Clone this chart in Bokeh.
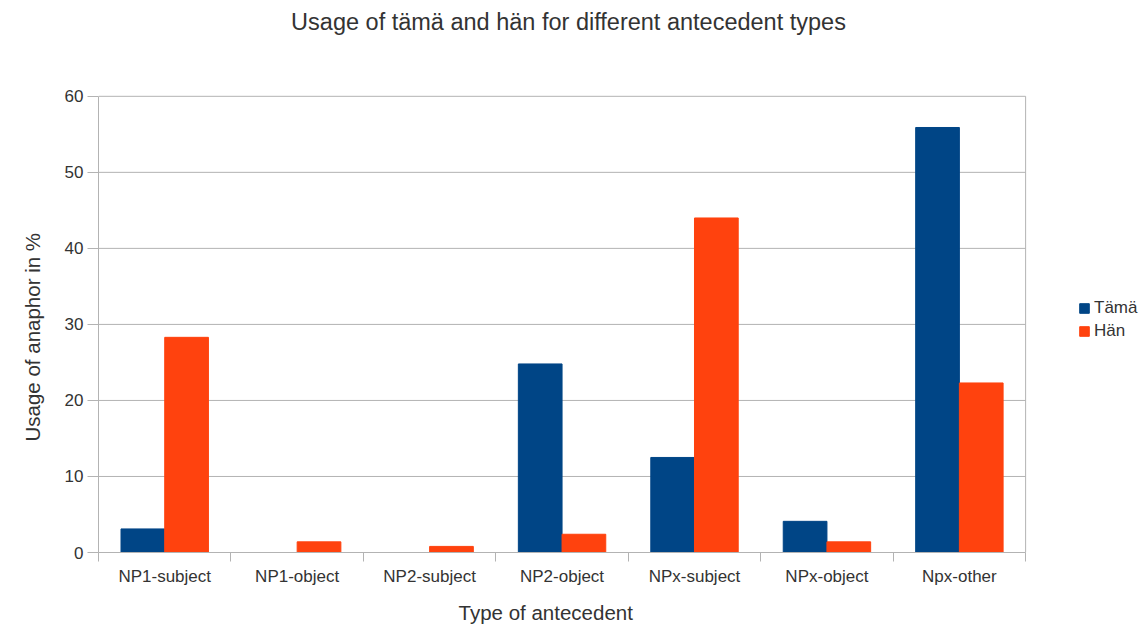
from bokeh.plotting import figure
from bokeh.models import (ColumnDataSource, FixedTicker, Legend, LegendItem, Range1d,
                          Label, Title)
from bokeh.embed import file_html
from bokeh.resources import INLINE

categories = ["NP1-subject", "NP1-object", "NP2-subject", "NP2-object",
              "NPx-subject", "NPx-object", "Npx-other"]
tama = [3.1, 0.0, 0.0, 24.8, 12.5, 4.1, 55.9]
han = [28.3, 1.4, 0.8, 2.4, 44.0, 1.4, 22.3]
y_ticks = [0, 10, 20, 30, 40, 50, 60]

FONT = "Liberation Sans"
TXT = "#333333"
GRID = "#b3b3b3"

W, H = 1140, 633
LEFT, BOTTOM = 97, 80          # borders (px)
PLOT_W, PLOT_H = 928, 457      # visible plotting box (px)

n = len(categories)
ymax = y_ticks[-1]
centers = [i + 0.5 for i in range(n)]
src = ColumnDataSource(dict(
    x_t=[c - 0.165 for c in centers],
    x_h=[c + 0.165 for c in centers],
    tama=tama, han=han))
grid_src = ColumnDataSource(dict(x0=[0] * len(y_ticks), x1=[n] * len(y_ticks),
                                 y=y_ticks))

# frame spans to the right and top edges; axes/grid are bounded to the data box
x_end = n * (W - LEFT) / PLOT_W
y_end = ymax * (H - BOTTOM) / PLOT_H

p = figure(width=W, height=H, output_backend="svg", toolbar_location=None,
           x_range=Range1d(0, x_end), y_range=Range1d(0, y_end),
           min_border_left=LEFT, min_border_right=0, min_border_bottom=BOTTOM,
           min_border_top=0)

# horizontal grid lines and right border of the data box
p.segment(x0="x0", x1="x1", y0="y", y1="y", source=grid_src,
          line_color=GRID, line_width=1, level="underlay")
p.segment(x0=[n], x1=[n], y0=[0], y1=[ymax], line_color=GRID, line_width=1,
          level="underlay")

r1 = p.vbar(x="x_t", top="tama", width=0.33, source=src,
            fill_color="#004586", line_color="#004586")
r2 = p.vbar(x="x_h", top="han", width=0.33, source=src,
            fill_color="#ff420e", line_color="#ff420e")

xa = p.xaxis[0]
xa.bounds = (0, n)
xa.ticker = FixedTicker(ticks=centers, minor_ticks=list(range(n + 1)))
xa.major_label_overrides = {c: lab for c, lab in zip(centers, categories)}
xa.major_tick_line_color = None
xa.major_tick_out = 8
xa.major_label_standoff = 5
xa.minor_tick_in = 0
xa.minor_tick_out = 9
xa.minor_tick_line_color = GRID
xa.axis_line_color = GRID
xa.major_label_text_font = FONT
xa.major_label_text_font_size = "17px"
xa.major_label_text_color = TXT

ya = p.yaxis[0]
ya.bounds = (0, ymax)
ya.ticker = FixedTicker(ticks=y_ticks)
ya.minor_tick_line_color = None
ya.major_tick_in = 0
ya.major_tick_out = 11
ya.major_tick_line_color = GRID
ya.axis_line_color = GRID
ya.major_label_standoff = 4
ya.major_label_text_font = FONT
ya.major_label_text_font_size = "17px"
ya.major_label_text_color = TXT

p.xgrid.grid_line_color = None
p.ygrid.grid_line_color = None
p.outline_line_color = None
p.background_fill_color = "white"
p.border_fill_color = "white"

# axis titles as panel titles (positioned along the data box)
xtitle = Title(text="Type of antecedent", align="left", offset=360, standoff=20,
               text_font=FONT, text_font_size="20.5px", text_font_style="normal",
               text_color=TXT)
p.add_layout(xtitle, "below")

ytitle = Title(text="Usage of anaphor in %", align="left", offset=111, standoff=36,
               text_font=FONT, text_font_size="20.5px", text_font_style="normal",
               text_color=TXT)
p.add_layout(ytitle, "left")

title = Label(x=470, y=531, x_units="screen", y_units="screen",
              text="Usage of tämä and hän for different antecedent types",
              text_align="center", text_baseline="middle",
              text_font=FONT, text_font_size="23.5px", text_color=TXT)
p.add_layout(title)

legend = Legend(items=[LegendItem(label="Tämä", renderers=[r1]),
                       LegendItem(label="Hän", renderers=[r2])],
                location=(980, 211), orientation="vertical")
legend.glyph_width = 12
legend.glyph_height = 12
legend.label_height = 15
legend.spacing = 3
legend.padding = 0
legend.margin = 0
legend.label_standoff = 4
legend.label_text_font = FONT
legend.label_text_font_size = "17px"
legend.label_text_color = TXT
legend.border_line_color = None
legend.background_fill_alpha = 0
p.add_layout(legend, "center")

open("out.html", "w").write(file_html(p, INLINE))
